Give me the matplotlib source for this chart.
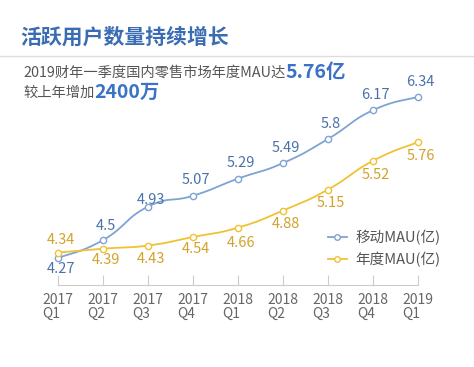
import numpy as np
import matplotlib
matplotlib.use("Agg")
import matplotlib.pyplot as plt
from matplotlib.lines import Line2D

plt.rcParams['font.family'] = ['Noto Sans CJK SC', 'DejaVu Sans']

quarters = ["2017\nQ1", "2017\nQ2", "2017\nQ3", "2017\nQ4", "2018\nQ1",
            "2018\nQ2", "2018\nQ3", "2018\nQ4", "2019\nQ1"]
mobile_mau = [4.27, 4.5, 4.93, 5.07, 5.29, 5.49, 5.8, 6.17, 6.34]
annual_mau = [4.34, 4.39, 4.43, 4.54, 4.66, 4.88, 5.15, 5.52, 5.76]
series_names = ["移动MAU(亿)", "年度MAU(亿)"]

# label offsets in points (style only)
mobile_off = [-8, 10, 5, 11, 11, 11, 11, 11, 11]
annual_off = [9, -8, -10, -9, -11, -10, -10, -10, -10]

BLUE_LINE = "#7fa3d3"
BLUE_TXT = "#4a72aa"
GOLD_LINE = "#f0c233"
GOLD_TXT = "#d2a22c"
GRAY = "#555555"


def smooth(x, y, n=30, t=0.5):
    x = np.asarray(x, float)
    y = np.asarray(y, float)
    xs, ys = [], []
    m = len(x)
    for i in range(m - 1):
        p0 = np.array([x[max(i - 1, 0)], y[max(i - 1, 0)]])
        p1 = np.array([x[i], y[i]])
        p2 = np.array([x[i + 1], y[i + 1]])
        p3 = np.array([x[min(i + 2, m - 1)], y[min(i + 2, m - 1)]])
        c1 = p1 + (p2 - p0) * t / 2
        c2 = p2 - (p3 - p1) * t / 2
        s = np.linspace(0, 1, n)[:, None]
        b = ((1 - s) ** 3) * p1 + 3 * ((1 - s) ** 2) * s * c1 + 3 * (1 - s) * s ** 2 * c2 + s ** 3 * p2
        xs.extend(b[:, 0])
        ys.extend(b[:, 1])
    return np.array(xs), np.array(ys)


W, H = 474, 367
fig = plt.figure(figsize=(W / 100, H / 100), dpi=100)
fig.patch.set_facecolor("white")

ax_l, ax_r, ax_b, ax_t = 58, 418, 285, 60
ax = fig.add_axes([ax_l / W, 1 - ax_b / H, (ax_r - ax_l) / W, (ax_b - ax_t) / H])
ax.set_facecolor("none")
x = np.arange(len(quarters))
scale = 77.8
ax.set_xlim(0, len(quarters) - 1)
ax.set_ylim(4.27 - 27 / scale, 4.27 + 198 / scale)

for vals, lc, tc, offs in [(mobile_mau, BLUE_LINE, BLUE_TXT, mobile_off),
                           (annual_mau, GOLD_LINE, GOLD_TXT, annual_off)]:
    sx, sy = smooth(x, vals)
    ax.plot(sx, sy, color=lc, lw=1.3, clip_on=False, zorder=3)
    ax.plot(x, vals, ls="none", marker="o", ms=4.5, mfc="white", mec=lc, mew=1.0,
            clip_on=False, zorder=4)
    for xi, v, o in zip(x, vals, offs):
        ax.annotate(f"{v:g}", (xi, v), xytext=(2, o), textcoords="offset points",
                    ha="center", va="center", fontsize=10.5, color=tc, zorder=5)

for s in ["top", "right", "left"]:
    ax.spines[s].set_visible(False)
ax.spines["bottom"].set_color("#cccccc")
ax.set_yticks([])
ax.set_xticks(x)
ax.set_xticklabels(quarters, fontsize=10, color="#666666", multialignment="left",
                   linespacing=1.0)
ax.tick_params(axis="x", direction="in", length=7, color="#cccccc", pad=6)

handles = [Line2D([0], [0], color=BLUE_LINE, lw=1.3, marker="o", ms=4, mfc="white", mec=BLUE_LINE),
           Line2D([0], [0], color=GOLD_LINE, lw=1.3, marker="o", ms=4, mfc="white", mec=GOLD_LINE)]
leg = fig.legend(handles, series_names, loc="upper left",
                 bbox_to_anchor=(322 / W, 1 - 224 / H), frameon=False,
                 fontsize=10.5, handlelength=1.3, handletextpad=0.6, labelspacing=0.45,
                 borderaxespad=0)
for t in leg.get_texts():
    t.set_color(GRAY)

# title and subtitle
fig.text(20 / W, 1 - 37 / H, "活跃用户数量持续增长", fontsize=15, fontweight="bold",
         color="#3a6cb3", va="center", ha="left")
fig.add_artist(Line2D([0, 1], [1 - 56 / H, 1 - 56 / H], color="#dddddd", lw=1.0))

t1 = fig.text(23 / W, 1 - 73 / H, "2019财年一季度国内零售市场年度MAU达", fontsize=10.3,
              color=GRAY, va="center", ha="left")
fig.canvas.draw()
bb = t1.get_window_extent()
fig.text(bb.x1 / W, 1 - 72 / H, "5.76亿", fontsize=14, fontweight="bold",
         color="#3a72c6", va="center", ha="left")
t2 = fig.text(23 / W, 1 - 93 / H, "较上年增加", fontsize=10.3, color=GRAY,
              va="center", ha="left")
fig.canvas.draw()
bb2 = t2.get_window_extent()
fig.text(bb2.x1 / W, 1 - 92 / H, "2400万", fontsize=14, fontweight="bold",
         color="#3a72c6", va="center", ha="left")

fig.savefig("out.png", dpi=100, facecolor="white")
